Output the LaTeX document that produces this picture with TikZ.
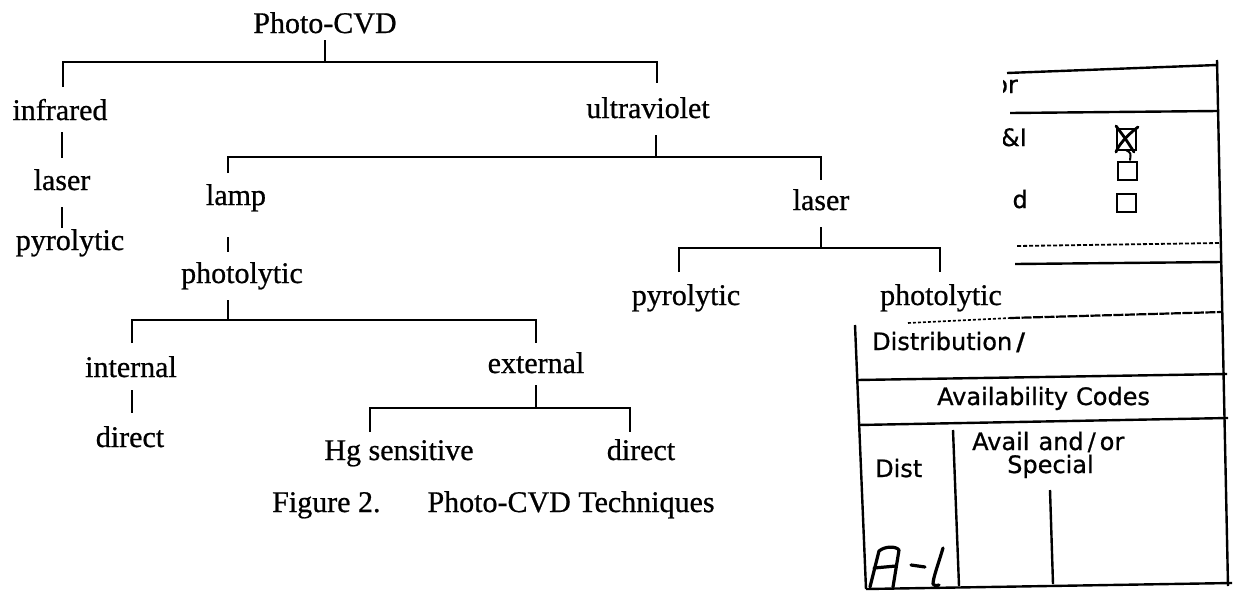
\documentclass[tikz,border=0pt]{standalone}
\usepackage{fontspec}
\setmainfont{Liberation Serif}
\newfontfamily\treefont[FakeBold=0.7]{Liberation Serif}
\newfontfamily\formfont[FakeBold=0.8]{DejaVu Sans}
\usetikzlibrary{calc}
\begin{document}
\begin{tikzpicture}[x=1pt,y=-1pt,
  lbl/.style={anchor=base,inner sep=0pt,font=\treefont\fontsize{30}{36}\selectfont},
  tree/.style={line width=1.5pt},
  form/.style={line width=2.4pt},
  ftxt/.style={anchor=base west,inner sep=0pt,font=\formfont\fontsize{24}{28}\selectfont},
  hand/.style={line width=3.2pt,line cap=round,line join=round},
]
\useasboundingbox[fill=white] (0,0) rectangle (1239,592);

% ---------- tree labels ----------
\node[lbl] (pcvd)  at (325,33)  {Photo-CVD};
\node[lbl] (ir)    at (60,120)  {infrared};
\node[lbl] (uv)    at (648,118) {ultraviolet};
\node[lbl] (lasL)  at (62,190)  {laser};
\node[lbl] (pyrL)  at (70,250)  {pyrolytic};
\node[lbl] (lamp)  at (236,205) {lamp};
\node[lbl] (lasR)  at (821,210) {laser};
\node[lbl] (photL) at (242,283) {photolytic};
\node[lbl] (pyrR)  at (686,305) {pyrolytic};
\node[lbl] (photR) at (941,305) {photolytic};
\node[lbl] (int)   at (131,377) {internal};
\node[lbl] (ext)   at (536,373) {external};
\node[lbl] (dirL)  at (130,447) {direct};
\node[lbl] (hg)    at (399,460) {Hg sensitive};
\node[lbl] (dirR)  at (641,460) {direct};
\node[lbl,anchor=base west] (cap) at (272,512) {Figure 2.\hspace{47pt}Photo-CVD Techniques};

% ---------- ports ----------
\coordinate (pcvd-o)  at ($(pcvd.base)+(0,7)$);
\coordinate (ir-i)    at ($(ir.base)+(3,-33)$);
\coordinate (uv-i)    at ($(uv.base)+(9,-35)$);
\coordinate (ir-o)    at ($(ir.base)+(2,12)$);
\coordinate (lasL-i)  at ($(lasL.base)+(0,-32)$);
\coordinate (lasL-o)  at ($(lasL.base)+(0,17)$);
\coordinate (pyrL-i)  at ($(pyrL.base)+(-8,-22)$);
\coordinate (uv-o)    at ($(uv.base)+(8,17)$);
\coordinate (lamp-i)  at ($(lamp.base)+(-8,-32)$);
\coordinate (lasR-i)  at ($(lasR.base)+(0,-30)$);
\coordinate (lamp-o)  at ($(lamp.base)+(-8,32)$);
\coordinate (photL-i) at ($(photL.base)+(-14,-31)$);
\coordinate (photL-o) at ($(photL.base)+(-14,17)$);
\coordinate (int-i)   at ($(int.base)+(1,-34)$);
\coordinate (ext-i)   at ($(ext.base)+(0,-30)$);
\coordinate (int-o)   at ($(int.base)+(1,13)$);
\coordinate (dirL-i)  at ($(dirL.base)+(2,-34)$);
\coordinate (ext-o)   at ($(ext.base)+(0,12)$);
\coordinate (hg-i)    at ($(hg.base)+(-29,-28)$);
\coordinate (dirR-i)  at ($(dirR.base)+(-11,-28)$);
\coordinate (lasR-o)  at ($(lasR.base)+(0,17)$);
\coordinate (pyrR-i)  at ($(pyrR.base)+(-7,-33)$);
\coordinate (photR-i) at ($(photR.base)+(-1,-33)$);
\coordinate (bar1) at (0,62);
\coordinate (bar2) at (0,157);
\coordinate (bar3) at (0,320);
\coordinate (bar4) at (0,408);
\coordinate (bar5) at (0,248);

% ---------- connectors ----------
\draw[tree] (pcvd-o) -- (pcvd-o |- bar1);
\draw[tree] (ir-i) -- (ir-i |- bar1) -- (uv-i |- bar1) -- (uv-i);
\draw[tree] (ir-o) -- (lasL-i);
\draw[tree] (lasL-o) -- (lasL-o |- pyrL-i);
\draw[tree] (uv-o) -- (uv-o |- bar2);
\draw[tree] (lamp-i) -- (lamp-i |- bar2) -- (lasR-i |- bar2) -- (lasR-i);
\draw[tree] (lamp-o) -- (photL-i);
\draw[tree] (photL-o) -- (photL-o |- bar3);
\draw[tree] (int-i) -- (int-i |- bar3) -- (ext-i |- bar3) -- (ext-i);
\draw[tree] (int-o) -- (dirL-i);
\draw[tree] (ext-o) -- (ext-o |- bar4);
\draw[tree] (hg-i) -- (hg-i |- bar4) -- (dirR-i |- bar4) -- (dirR-i);
\draw[tree] (lasR-o) -- (lasR-o |- bar5);
\draw[tree] (pyrR-i) -- (pyrR-i |- bar5) -- (photR-i |- bar5) -- (photR-i);

% ---------- accession form (partly covered) ----------
\draw[form] (1007,73) -- (1217,65);
\draw[form] (1217,60) -- (1228,586);
\draw[form] (1010,113) -- (1218,111);
\begin{scope}
  \clip (1003,75) rectangle (1100,235);
  \node[ftxt,anchor=base east] (fOr) at (1018,93) {or};
  \node[ftxt,anchor=base east] (fAI) at (1027,146) {\&I};
  \node[ftxt,anchor=base east] (fD)  at (1028,208) {d};
\end{scope}
% check boxes
\draw[line width=2pt] (1117,129) rectangle (1136,150);
\draw[line width=2pt] (1118,162) rectangle (1137,180);
\draw[line width=2pt] (1117,194) rectangle (1136,212);
\draw[hand,line width=2.8pt] (1116,126) .. controls (1125,138) .. (1134,152);
\draw[hand,line width=2.8pt] (1138,127) .. controls (1126,136) and (1118,146) .. (1116,152);
\draw[hand,line width=2pt] (1126,150) .. controls (1131,153) .. (1130,160);
% dashed / solid rules
\draw[line width=1.8pt,dash pattern=on 4pt off 2pt] (1017,246) -- (1220,243);
\draw[form] (1015,264) -- (1222,262);
\draw[line width=1.6pt,dash pattern=on 3pt off 2pt] (908,323) -- (1010,318);
\draw[line width=2.2pt,dash pattern=on 10pt off 1.5pt] (1010,318) -- (1222,312);
% lower box
\draw[form] (855,325) -- (866,589);
\draw[form] (857,380) -- (1227,374);
\draw[form] (858,425) -- (1228,418);
\draw[form] (953,430) -- (959,586);
\draw[form] (1050,490) -- (1053,584);
\draw[form] (866,589) -- (1232,583);
\node[ftxt] (fDistr) at (872,350) {Distribution\,\textbf{/}};
\node[ftxt] (fAvc)   at (937,405) {Availability\hspace{8pt}Codes};
\node[ftxt] (fDist)  at (875,477) {Dist};
\node[ftxt] (fAvl)   at (972,450) {Avail\hspace{9pt}and\,/\,or};
\node[ftxt] (fSpec)  at (1007,473) {Special};
% handwritten A-l
\draw[hand] (870,587) -- (879,551) .. controls (885,546) and (896,546) .. (899,550) -- (893,587);
\draw[hand] (874,568) -- (896,566);
\draw[hand] (911,565) -- (925,567);
\draw[hand] (943,548) .. controls (938,565) and (933,578) .. (933,584) .. controls (935,586) .. (939,585);
\end{tikzpicture}
\end{document}
